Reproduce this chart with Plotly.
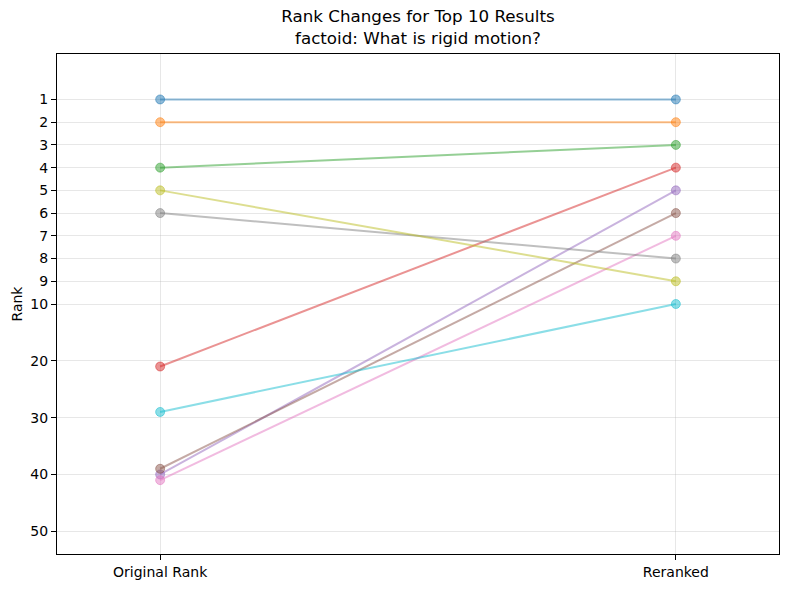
import plotly.graph_objects as go

# rank data
original_rank = [1, 2, 4, 21, 40, 39, 41, 6, 5, 29]
reranked = [1, 2, 3, 4, 5, 6, 7, 8, 9, 10]
x_labels = ["Original Rank", "Reranked"]
rank_ticks = [1, 2, 3, 4, 5, 6, 7, 8, 9, 10, 20, 30, 40, 50]

# matplotlib tab10
colors = ["#1f77b4", "#ff7f0e", "#2ca02c", "#d62728", "#9467bd",
          "#8c564b", "#e377c2", "#7f7f7f", "#bcbd22", "#17becf"]


def squash(r):
    # ranks past 10 are compressed 4x, like the original plot
    return r if r <= 10 else 10 + (r - 10) / 4


def rgba(hex_color, a):
    h = hex_color.lstrip("#")
    return "rgba(%d,%d,%d,%s)" % (int(h[0:2], 16), int(h[2:4], 16), int(h[4:6], 16), a)


fig = go.Figure()
for i in range(len(original_rank)):
    c = colors[i]
    fig.add_trace(go.Scatter(
        x=[0, 1],
        y=[squash(original_rank[i]), squash(reranked[i])],
        mode="lines+markers",
        line=dict(color=rgba(c, 0.5), width=2),
        marker=dict(color=rgba(c, 0.5), size=9, line=dict(color=rgba(c, 0.5), width=1)),
        showlegend=False,
        hoverinfo="skip",
    ))

axis_common = dict(
    showline=True, linecolor="black", linewidth=1, mirror=True,
    ticks="outside", ticklen=5, tickcolor="black", tickwidth=1,
    showgrid=True, gridcolor="rgba(176,176,176,0.3)", gridwidth=1,
    zeroline=False,
    tickfont=dict(family="DejaVu Sans", size=14, color="black"),
)

fig.update_layout(
    width=790, height=590,
    margin=dict(l=57, r=10, t=54, b=33),
    paper_bgcolor="white", plot_bgcolor="white",
    font=dict(family="DejaVu Sans", color="black"),
    title=dict(
        text="Rank Changes for Top 10 Results<br>factoid: What is rigid motion?",
        xref="paper", x=0.5, xanchor="center",
        yref="container", y=0.962, yanchor="top",
        font=dict(family="DejaVu Sans", size=16.7, color="black"),
    ),
    xaxis=dict(
        range=[-0.2, 1.2],
        tickvals=[0, 1], ticktext=x_labels,
        **axis_common,
    ),
    yaxis=dict(
        range=[squash(50) + 1, -1],
        tickvals=[squash(r) for r in rank_ticks],
        ticktext=[str(r) for r in rank_ticks],
        title=dict(text="Rank", font=dict(family="DejaVu Sans", size=14, color="black"), standoff=4),
        **axis_common,
    ),
)

# drop the default 8px page margin so the figure sits at the window's corner
fig.write_html("out.html", config={"displayModeBar": False},
               post_script="document.body.style.margin='0';")
